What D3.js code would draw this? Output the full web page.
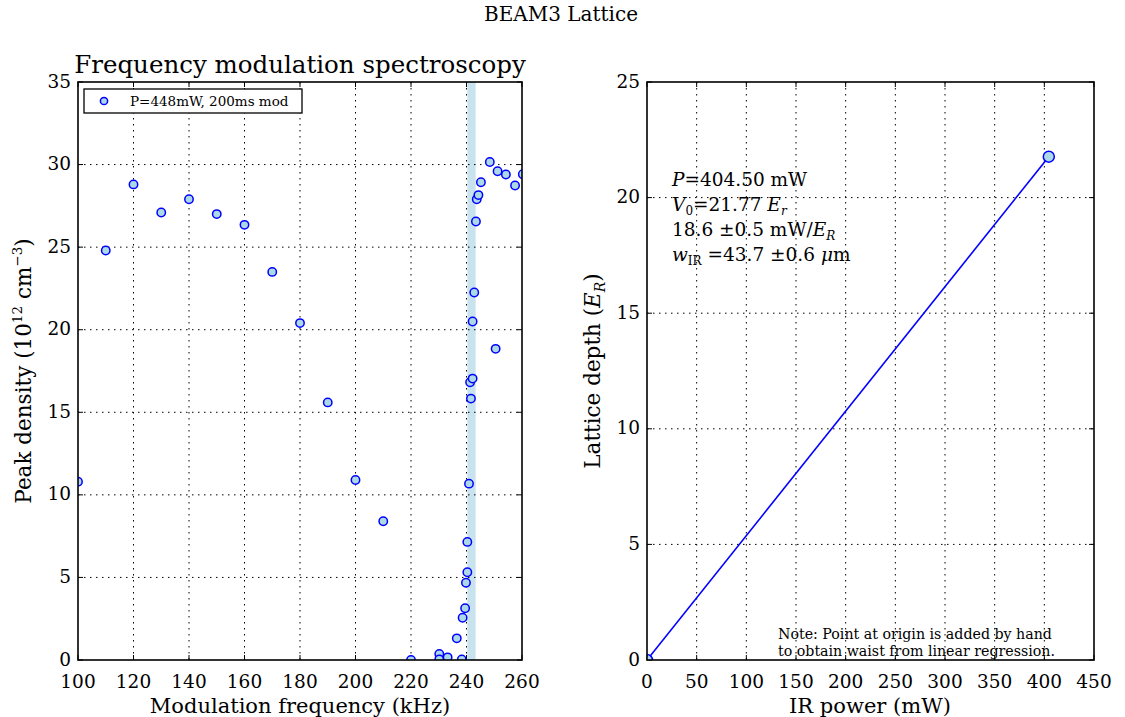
<!DOCTYPE html>
<html lang="en">
<head>
<meta charset="UTF-8">
<title>BEAM3 Lattice</title>
<script src="https://d3js.org/d3.v7.min.js"></script>
<style>
  body {margin: 0; background: #fff;}
  svg {font-family: "DejaVu Serif", serif;}
  .grid line {stroke: #000; stroke-width: 1; stroke-dasharray: 1.5, 4.5;}
  .tick-label {font-size: 18.5px; fill: #000;}
</style>
</head>
<body>
<div id="chart"></div>
<script>
// left panel: FM spectroscopy scan
const modFreq = [100, 110, 120, 130, 140, 150, 160, 170, 180, 190, 200, 210, 220,
  230.2, 230.2, 233.2, 238.3, 236.5, 238.6, 239.5, 239.8, 240.3, 240.3, 240.9,
  241.6, 241.3, 242.2, 242.2, 242.8, 243.4, 243.7, 244.3, 245.2, 248.4, 250.5,
  251.2, 254.2, 257.5, 260.3];
const peakDensity = [10.8, 24.8, 28.8, 27.1, 27.9, 27.0, 26.35, 23.5, 20.4, 15.6, 10.9, 8.4, 0.0,
  0.36, 0.04, 0.16, 0.03, 1.31, 2.56, 3.13, 4.68, 5.31, 7.15, 10.68,
  15.83, 16.82, 17.04, 20.5, 22.25, 26.55, 27.9, 28.15, 28.93, 30.16, 18.84,
  29.6, 29.4, 28.73, 29.42];
const bandKHz = [240.3, 243.3];
const freqTicks = [100, 120, 140, 160, 180, 200, 220, 240, 260];
const densityTicks = [0, 5, 10, 15, 20, 25, 30, 35];

// right panel: lattice depth vs power
const irPower = [0, 404.5];
const latticeDepth = [0, 21.77];
const powerTicks = [0, 50, 100, 150, 200, 250, 300, 350, 400, 450];
const depthTicks = [0, 5, 10, 15, 20, 25];

const W = 1125, H = 717;
const svg = d3.select("#chart").append("svg").attr("width", W).attr("height", H);

svg.append("text").attr("x", 561).attr("y", 21).attr("text-anchor", "middle")
  .attr("font-size", 20).text("BEAM3 Lattice");

function panel(id, left, right, xDom, yDom, xTicks, yTicks) {
  const top = 82, bottom = 660;
  const x = d3.scaleLinear().domain(xDom).range([left, right]);
  const y = d3.scaleLinear().domain(yDom).range([bottom, top]);
  const g = svg.append("g");
  svg.append("clipPath").attr("id", id).append("rect")
    .attr("x", left).attr("y", top).attr("width", right - left).attr("height", bottom - top);

  const grid = g.append("g").attr("class", "grid");
  grid.selectAll(".gx").data(xTicks.slice(1, -1)).join("line")
    .attr("x1", d => x(d)).attr("x2", d => x(d)).attr("y1", top).attr("y2", bottom);
  grid.selectAll(".gy").data(yTicks.slice(1, -1)).join("line")
    .attr("y1", d => y(d)).attr("y2", d => y(d)).attr("x1", left).attr("x2", right);

  const ticks = g.append("g").attr("stroke", "#000").attr("stroke-width", 1);
  xTicks.forEach(t => {
    ticks.append("line").attr("x1", x(t)).attr("x2", x(t)).attr("y1", bottom).attr("y2", bottom - 5);
    ticks.append("line").attr("x1", x(t)).attr("x2", x(t)).attr("y1", top).attr("y2", top + 5);
  });
  yTicks.forEach(t => {
    ticks.append("line").attr("y1", y(t)).attr("y2", y(t)).attr("x1", left).attr("x2", left + 5);
    ticks.append("line").attr("y1", y(t)).attr("y2", y(t)).attr("x1", right).attr("x2", right - 5);
  });

  g.selectAll(".xl").data(xTicks).join("text").attr("class", "tick-label")
    .attr("x", d => x(d)).attr("y", bottom + 28).attr("text-anchor", "middle").text(d => d);
  g.selectAll(".yl").data(yTicks).join("text").attr("class", "tick-label")
    .attr("x", left - 7).attr("y", d => y(d) + 5.5).attr("text-anchor", "end").text(d => d);

  return {x, y, g, top, bottom, left, right,
    frame() {
      svg.append("rect").attr("x", left).attr("y", top).attr("width", right - left)
        .attr("height", bottom - top).attr("fill", "none").attr("stroke", "#000").attr("stroke-width", 1.6);
    }};
}

// ---- left
const L = panel("clipL", 78, 522, [100, 260], [0, 35], freqTicks, densityTicks);
L.g.insert("rect", ":first-child").attr("x", L.x(bandKHz[0])).attr("y", L.top)
  .attr("width", L.x(bandKHz[1]) - L.x(bandKHz[0])).attr("height", L.bottom - L.top)
  .attr("fill", "#c8e3ee");
L.g.append("g").attr("clip-path", "url(#clipL)").selectAll("circle")
  .data(modFreq.map((f, i) => [f, peakDensity[i]])).join("circle")
  .attr("cx", d => L.x(d[0])).attr("cy", d => L.y(d[1])).attr("r", 4.2)
  .attr("fill", "#add8e6").attr("stroke", "#0000ff").attr("stroke-width", 1.5);
L.frame();

svg.append("text").attr("x", 300).attr("y", 73).attr("text-anchor", "middle")
  .attr("font-size", 24.5).text("Frequency modulation spectroscopy");
svg.append("text").attr("x", 300).attr("y", 712.5).attr("text-anchor", "middle")
  .attr("font-size", 21).text("Modulation frequency (kHz)");
const yl = svg.append("text").attr("transform", "translate(31,371) rotate(-90)")
  .attr("text-anchor", "middle").attr("font-size", 21.5);
yl.append("tspan").text("Peak density (10");
yl.append("tspan").attr("font-size", 13.5).attr("dy", -9).text("12");
yl.append("tspan").attr("dy", 9).text("  cm");
yl.append("tspan").attr("font-size", 13.5).attr("dy", -9).text("\u22123");
yl.append("tspan").attr("dy", 9).text(")");

// legend
const lg = svg.append("g");
lg.append("rect").attr("x", 84).attr("y", 89).attr("width", 218).attr("height", 24)
  .attr("fill", "#fff").attr("stroke", "#000").attr("stroke-width", 1.3);
lg.append("circle").attr("cx", 104).attr("cy", 101).attr("r", 3.6)
  .attr("fill", "#add8e6").attr("stroke", "#0000ff").attr("stroke-width", 1.5);
lg.append("text").attr("x", 130).attr("y", 106).attr("font-size", 13.5).text("P=448mW, 200ms mod");

// ---- right
const R = panel("clipR", 647, 1094, [0, 450], [0, 25], powerTicks, depthTicks);
const pts = irPower.map((p, i) => [p, latticeDepth[i]]);
const rg = R.g.append("g").attr("clip-path", "url(#clipR)");
rg.append("path").attr("d", d3.line().x(d => R.x(d[0])).y(d => R.y(d[1]))(pts))
  .attr("fill", "none").attr("stroke", "#0000ff").attr("stroke-width", 1.6);
rg.selectAll("circle").data(pts).join("circle")
  .attr("cx", d => R.x(d[0])).attr("cy", d => R.y(d[1])).attr("r", 5.5)
  .attr("fill", "#add8e6").attr("stroke", "#0000ff").attr("stroke-width", 1.5);
R.frame();

svg.append("text").attr("x", 870).attr("y", 712.5).attr("text-anchor", "middle")
  .attr("font-size", 21).text("IR power (mW)");
const ry = svg.append("text").attr("transform", "translate(600,371) rotate(-90)")
  .attr("text-anchor", "middle").attr("font-size", 21.5);
ry.append("tspan").text("Lattice depth (");
ry.append("tspan").attr("font-style", "italic").text("E");
ry.append("tspan").attr("font-style", "italic").attr("font-size", 14).attr("dy", 5).text("R");
ry.append("tspan").attr("dy", -5).text(")");

// fit annotation
const ann = svg.append("g").attr("font-size", 18.5);
const a1 = ann.append("text").attr("x", 672).attr("y", 186);
a1.append("tspan").attr("font-style", "italic").text("P");
a1.append("tspan").text("=404.50 mW");
const a2 = ann.append("text").attr("x", 672).attr("y", 211);
a2.append("tspan").attr("font-style", "italic").text("V");
a2.append("tspan").attr("font-size", 12).attr("dy", 4).text("0");
a2.append("tspan").attr("dy", -4).text("=21.77 ");
a2.append("tspan").attr("font-style", "italic").text("E");
a2.append("tspan").attr("font-style", "italic").attr("font-size", 12).attr("dy", 4).text("r");
const a3 = ann.append("text").attr("x", 672).attr("y", 236);
a3.append("tspan").text("18.6 \u00b10.5 mW/");
a3.append("tspan").attr("font-style", "italic").text("E");
a3.append("tspan").attr("font-style", "italic").attr("font-size", 12).attr("dy", 4).text("R");
const a4 = ann.append("text").attr("x", 672).attr("y", 261);
a4.append("tspan").attr("font-style", "italic").text("w");
a4.append("tspan").attr("font-size", 12).attr("dy", 4).text("IR");
a4.append("tspan").attr("dy", -4).text(" =43.7 \u00b10.6 ");
a4.append("tspan").attr("font-style", "italic").text("\u03bc");
a4.append("tspan").text("m");

svg.append("text").attr("x", 778).attr("y", 639).attr("font-size", 14.2)
  .text("Note: Point at origin is added by hand");
svg.append("text").attr("x", 778).attr("y", 656).attr("font-size", 14.2)
  .text("to obtain waist from linear regression.");
</script>
</body>
</html>
